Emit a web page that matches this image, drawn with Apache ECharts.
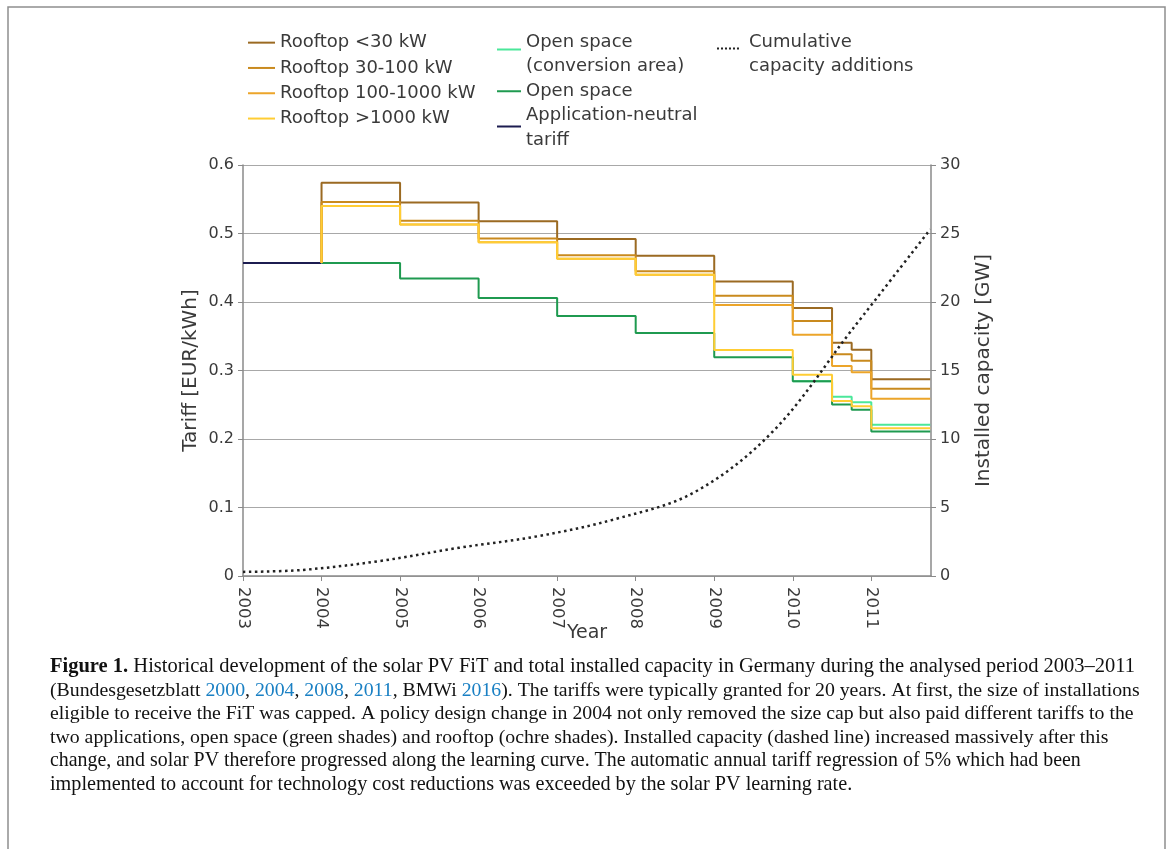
<!DOCTYPE html>
<html>
<head>
<meta charset="utf-8">
<script src="https://cdn.jsdelivr.net/npm/echarts@6/dist/echarts.min.js"></script>
<style>
  html, body { margin: 0; padding: 0; background: #ffffff; }
  #chart { width: 1171px; height: 849px; }
</style>
</head>
<body>
<div id="chart"></div>
<script>
// ---- data ----
const yearTicks = [2003, 2004, 2005, 2006, 2007, 2008, 2009, 2010, 2011];
const changeYears = [2004, 2005, 2006, 2007, 2008, 2009, 2010, 2010.5, 2010.75, 2011];
const endYear = 2011.75;
const neutralYears = [2003, 2004];
const neutralTariff = [0.457, 0.457];
const rooftopStart = 0.457;
const rooftopLt30 = [0.574, 0.5453, 0.518, 0.4921, 0.4675, 0.4301, 0.3914, 0.3405, 0.3303, 0.2874];
const rooftop30to100 = [0.546, 0.5187, 0.4928, 0.4682, 0.4448, 0.4091, 0.3723, 0.3239, 0.3142, 0.2733];
const rooftop100to1000 = [0.540, 0.513, 0.4874, 0.463, 0.4399, 0.3958, 0.3523, 0.3065, 0.2973, 0.2586];
const rooftopGt1000 = [0.540, 0.513, 0.4874, 0.463, 0.4399, 0.330, 0.2937, 0.2555, 0.2479, 0.2156];
const openSpace = [0.457, 0.4342, 0.406, 0.3796, 0.3549, 0.3194, 0.2843, 0.2502, 0.2426, 0.2111];
const conversionYears = [2010, 2010.5, 2010.75, 2011];
const conversionArea = [0.2843, 0.2616, 0.2537, 0.2207];
const capacityYears = [2003, 2003.75, 2004.75, 2005.75, 2006.75, 2007.75, 2008.75, 2009.75, 2010.75, 2011.75];
const capacityGW = [0.3, 0.44, 1.1, 2.06, 2.9, 4.17, 6.12, 10.57, 17.94, 25.3];

const names = {
  lt30: 'Rooftop <30 kW',
  r30: 'Rooftop 30-100 kW',
  r100: 'Rooftop 100-1000 kW',
  gt1000: 'Rooftop >1000 kW',
  conv: 'Open space\n(conversion area)',
  open: 'Open space',
  neutral: 'Application-neutral\ntariff',
  cum: 'Cumulative\ncapacity additions'
};

function stepData(xs, ys, start, end) {
  const d = [];
  if (start !== undefined) d.push([xs[0], start]);
  for (let i = 0; i < xs.length; i++) d.push([xs[i], ys[i]]);
  if (end !== undefined) d.push([end, ys[ys.length - 1]]);
  return d;
}
function pairs(xs, ys) { return xs.map((x, i) => [x, ys[i]]); }

const chart = echarts.init(document.getElementById('chart'), null, { renderer: 'canvas' });
const txt = '#3a3a3a';
const axisGray = '#8a8a8a';
const sans = 'DejaVu Sans';
const serif = 'Liberation Serif';

function stepSeries(name, color, data, z) {
  return {
    name: name, type: 'line', step: 'end', symbol: 'none', data: data, z: z,
    lineStyle: { color: color, width: 2 }, itemStyle: { color: color },
    emphasis: { disabled: true }, animation: false
  };
}

const legendText = { color: txt, fontFamily: sans, fontSize: 18, lineHeight: 24.5 };
const legendBase = {
  orient: 'vertical', padding: 0, itemGap: 0, itemHeight: 2,
  textStyle: legendText, selectedMode: false
};
// legend icons: a thin bar plus tiny invisible specks that set where the bar sits in the icon box
const barUp5 = 'path://M0 0h24v2h-24zM0 12h0.01v0.01h-0.01z';
const barMid = 'path://M0 5h24v2h-24zM0 0h0.01v0.01h-0.01zM0 12h0.01v0.01h-0.01z';
const barUp2 = 'path://M0 0h24v2h-24zM0 5h0.01v0.01h-0.01z';
const dotsUp6 = 'path://M0 0h2v2h-2zM4 0h2v2h-2zM8 0h2v2h-2zM12 0h2v2h-2zM16 0h2v2h-2zM20 0h2v2h-2zM0 14h0.01v0.01h-0.01z';
function li(name, icon) { return { name: name, icon: icon || 'rect' }; }
function lg(extra) { return Object.assign({}, legendBase, extra); }

const blue = '#1a80c4';
const captionLines = [
  '{b|Figure 1.} Historical development of the solar PV FiT and total installed capacity in Germany during the analysed period 2003\u20132011',
  '(Bundesgesetzblatt {l|2000}, {l|2004}, {l|2008}, {l|2011}, BMWi {l|2016}). The tariffs were typically granted for 20 years. At first, the size of installations',
  'eligible to receive the FiT was capped. A policy design change in 2004 not only removed the size cap but also paid different tariffs to the',
  'two applications, open space (green shades) and rooftop (ochre shades). Installed capacity (dashed line) increased massively after this',
  'change, and solar PV therefore progressed along the learning curve. The automatic annual tariff regression of 5% which had been',
  'implemented to account for technology cost reductions was exceeded by the solar PV learning rate.'
];
const captionY = [667, 690.5, 714, 737.5, 761, 784.5];
const captionSize = [20.5, 19.8, 19.8, 19.8, 19.9, 20.2];

const graphics = [{
  type: 'rect', shape: { x: 8, y: 7, width: 1157, height: 860 },
  style: { fill: 'none', stroke: '#8f8f8f', lineWidth: 1.5 }, silent: true
}];
captionLines.forEach((t, i) => {
  const s = captionSize[i];
  graphics.push({
    type: 'text', x: 50, y: captionY[i], silent: true,
    style: {
      text: t,
      rich: {
        b: { fontFamily: serif, fontSize: s, fontWeight: 'bold', fill: '#111' },
        l: { fontFamily: serif, fontSize: s, fill: blue }
      },
      fontFamily: serif, fontSize: s, fill: '#111', verticalAlign: 'middle', align: 'left'
    }
  });
});

const option = {
  backgroundColor: '#ffffff',
  animation: false,
  grid: { left: 243, right: 240, top: 165, bottom: 273, containLabel: false },
  legend: [
    lg({ left: 248, top: 30, itemWidth: 27, textStyle: Object.assign({}, legendText, { lineHeight: 25.3 }),
      data: [li(names.lt30), li(names.r30), li(names.r100), li(names.gt1000)] }),
    lg({ left: 497, top: 30, itemWidth: 24, itemHeight: 12,
      data: [li(names.conv, barUp5), li(names.open, barMid), li(names.neutral, barUp2)] }),
    lg({ left: 717, top: 30, itemWidth: 22, itemHeight: 14,
      textStyle: Object.assign({}, legendText, { padding: [0, 0, 0, 5] }),
      data: [li(names.cum, dotsUp6)] })
  ],
  xAxis: {
    type: 'value', min: 2003, max: 2011.76, interval: 1,
    name: 'Year', nameLocation: 'middle', nameGap: 48, nameMoveOverlap: false,
    nameTextStyle: { color: txt, fontFamily: sans, fontSize: 19, verticalAlign: 'top' },
    axisLine: { show: true, lineStyle: { color: axisGray, width: 1.5 } },
    axisTick: { show: true, length: 5, lineStyle: { color: axisGray }, customValues: yearTicks },
    axisLabel: { color: txt, fontFamily: sans, fontSize: 16.5, rotate: -90, margin: 11, customValues: yearTicks,
      formatter: v => String(Math.round(v)) },
    splitLine: { show: false }
  },
  yAxis: [{
    type: 'value', min: 0, max: 0.6, interval: 0.1,
    name: 'Tariff [EUR/kWh]', nameLocation: 'middle', nameGap: 42, nameRotate: 90, nameMoveOverlap: false,
    nameTextStyle: { color: txt, fontFamily: sans, fontSize: 20 },
    axisLine: { show: true, lineStyle: { color: axisGray, width: 1.5 } },
    axisTick: { show: true, length: 5, lineStyle: { color: axisGray } },
    axisLabel: { color: txt, fontFamily: sans, fontSize: 16, margin: 9 },
    splitLine: { show: true, lineStyle: { color: '#a8a8a8', width: 1 } }
  }, {
    type: 'value', min: 0, max: 30, interval: 5, position: 'right',
    name: 'Installed capacity [GW]', nameLocation: 'middle', nameGap: 43, nameRotate: 90, nameMoveOverlap: false,
    nameTextStyle: { color: txt, fontFamily: sans, fontSize: 20 },
    axisLine: { show: true, lineStyle: { color: axisGray, width: 1.5 } },
    axisTick: { show: true, length: 5, lineStyle: { color: axisGray } },
    axisLabel: { color: txt, fontFamily: sans, fontSize: 16, margin: 9 },
    splitLine: { show: false }
  }],
  graphic: graphics,
  series: [
    stepSeries(names.neutral, '#1c1c50', pairs(neutralYears, neutralTariff), 2),
    stepSeries(names.conv, '#4be79a', stepData(conversionYears, conversionArea, undefined, endYear), 2),
    stepSeries(names.open, '#1f9a50', stepData(changeYears, openSpace, undefined, endYear), 3),
    stepSeries(names.lt30, '#9b6a22', stepData(changeYears, rooftopLt30, rooftopStart, endYear), 4),
    stepSeries(names.r30, '#c98a1e', stepData(changeYears, rooftop30to100, rooftopStart, endYear), 5),
    stepSeries(names.r100, '#eca52a', stepData(changeYears, rooftop100to1000, rooftopStart, endYear), 6),
    stepSeries(names.gt1000, '#ffcd34', stepData(changeYears, rooftopGt1000, rooftopStart, endYear), 7),
    {
      name: names.cum, type: 'line', yAxisIndex: 1, symbol: 'none', smooth: 0.35,
      data: pairs(capacityYears, capacityGW), z: 8,
      lineStyle: { color: '#222222', width: 2.5, type: [2.5, 3.5] }, itemStyle: { color: '#222222' },
      emphasis: { disabled: true }
    }
  ]
};
chart.setOption(option);
</script>
</body>
</html>
